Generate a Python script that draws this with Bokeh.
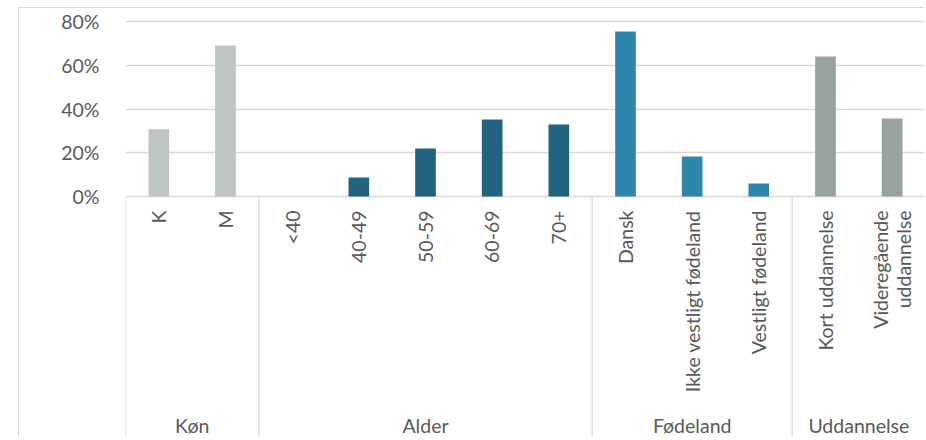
import numpy as np
from bokeh.plotting import figure
from bokeh.models import ColumnDataSource, FactorRange, Range1d, FixedTicker, PrintfTickFormatter
from bokeh.core.properties import value
from bokeh.embed import file_html
from bokeh.resources import INLINE

# ---- data ----
groups = ["Køn", "Alder", "Fødeland", "Uddannelse"]
group_sizes = [2, 5, 3, 2]
categories = ["K", "M", "<40", "40-49", "50-59", "60-69", "70+",
              "Dansk", "Ikke vestligt fødeland", "Vestligt fødeland",
              "Kort uddannelse", "Videregående\nuddannelse"]
shares = [30.8, 69.0, 0.0, 8.7, 21.9, 35.2, 32.9, 75.4, 18.3, 5.9, 64.0, 35.7]
y_ticks = [0, 20, 40, 60, 80]

# ---- styles ----
group_colors = {"Køn": "#BCC5C0", "Alder": "#22637F", "Fødeland": "#2E87AA", "Uddannelse": "#97A39C"}
TEXT = "#595959"
GRID = "#D9D9D9"
FONT = "Lato"
FS = "19.5px"

# ---- layout (pixels) ----
W, H = 906, 430
LEFT = 106
PX_PER_UNIT = 175 / 80.0
TOP_GAP = 13          # from frame top to 80% line
ZERO_Y = 188          # frame-relative pixel of 0%
y_end = 80 + TOP_GAP / PX_PER_UNIT
y_start = -(H - ZERO_Y) / PX_PER_UNIT

group_of = np.repeat(groups, group_sizes).tolist()
factors = list(zip(group_of, categories))

x_range = FactorRange(*factors, group_padding=0, range_padding=0, factor_padding=0)

p = figure(width=W, height=H, x_range=x_range, y_range=Range1d(y_start, y_end),
           output_backend="svg", toolbar_location=None, x_axis_location=None,
           min_border_left=LEFT, min_border_right=0, min_border_top=0, min_border_bottom=0,
           outline_line_color=None, margin=(7, 0, 0, 18),
           styles={"border-left": "1px solid #D9D9D9", "border-top": "1px solid #D9D9D9"})

bars = ColumnDataSource(dict(x=factors, share=shares, label=categories,
                             color=[group_colors[g] for g in group_of]))
p.vbar(x="x", top="share", width=0.31, source=bars, fill_color="color", line_color=None)

# group dividers
first_idx = np.cumsum([0] + group_sizes[:-1])
div_x = [factors[i] + (-0.5,) for i in first_idx] + [factors[-1] + (0.49,)]
p.segment(x0=div_x, y0=0, x1=div_x, y1=y_start, line_color=GRID, line_width=1.3)

# category labels
p.text(x="x", y=0, text="label", source=bars, angle=np.pi / 2, y_offset=14,
       text_align="right", text_baseline="middle", text_font=value(FONT),
       text_font_size=FS, text_color=TEXT, text_line_height=1.0)

# group labels
p.text(x=groups, y=[y_start] * len(groups), text=groups, y_offset=-13,
       text_align="center", text_baseline="middle", text_font=value(FONT),
       text_font_size=FS, text_color=TEXT)

p.yaxis.ticker = FixedTicker(ticks=y_ticks)
p.yaxis.formatter = PrintfTickFormatter(format="%d%%")
p.yaxis.axis_line_color = None
p.yaxis.major_tick_line_color = None
p.yaxis.minor_tick_line_color = None
p.yaxis.major_label_standoff = 20
p.yaxis.major_label_text_font = FONT
p.yaxis.major_label_text_font_size = FS
p.yaxis.major_label_text_color = TEXT

p.xgrid.grid_line_color = None
p.ygrid.ticker = FixedTicker(ticks=y_ticks)
p.ygrid.grid_line_color = GRID
p.ygrid.grid_line_width = 1.3

open("out.html", "w").write(file_html(p, INLINE))
